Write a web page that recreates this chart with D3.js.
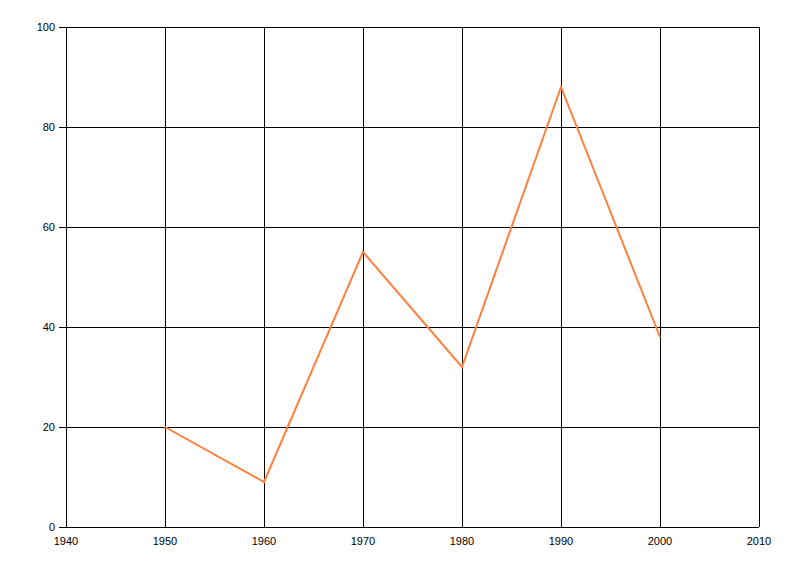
<!DOCTYPE html>
<html><head><meta charset="utf-8">
<script src="https://cdn.jsdelivr.net/npm/d3@7"></script>
<style>body{margin:0;background:#fff}svg{display:block}</style>
</head><body>
<script>
const years = [1950, 1960, 1970, 1980, 1990, 2000];
const values = [20, 9, 55, 32, 88, 38];
const xTicks = [1940, 1950, 1960, 1970, 1980, 1990, 2000, 2010];
const yTicks = [0, 20, 40, 60, 80, 100];

const W = 800, H = 576;
const pLeft = 66, pRight = 759, pTop = 27, pBottom = 527;
const svg = d3.select("body").append("svg").attr("width", W).attr("height", H);
const x = d3.scaleLinear().domain([1940, 2010]).range([pLeft, pRight]);
const y = d3.scaleLinear().domain([0, 100]).range([pBottom, pTop]);

const g = svg.append("g").attr("shape-rendering", "crispEdges");
g.selectAll(".vg").data(xTicks).enter().append("line")
  .attr("x1", d => Math.round(x(d)) + 0.5).attr("x2", d => Math.round(x(d)) + 0.5)
  .attr("y1", pTop).attr("y2", pBottom).attr("stroke", "#000");
g.selectAll(".hg").data(yTicks).enter().append("line")
  .attr("y1", d => Math.round(y(d)) + 0.5).attr("y2", d => Math.round(y(d)) + 0.5)
  .attr("x1", pLeft - 7).attr("x2", pRight).attr("stroke", "#000");

svg.selectAll(".yl").data(yTicks).enter().append("text")
  .attr("x", 55).attr("y", d => Math.round(y(d)) + 4)
  .attr("text-anchor", "end").attr("font-family", "Liberation Sans, Arial, sans-serif")
  .attr("font-size", 11).attr("fill", "#000").text(d => d);
svg.selectAll(".xl").data(xTicks).enter().append("text")
  .attr("x", d => x(d)).attr("y", 545)
  .attr("text-anchor", "middle").attr("font-family", "Liberation Sans, Arial, sans-serif")
  .attr("font-size", 11).attr("fill", "#000").text(d => d);

const line = d3.line().x((d, i) => x(years[i])).y(d => y(d));
svg.append("path").datum(values).attr("d", line)
  .attr("fill", "none").attr("stroke", "#ff7f3f").attr("stroke-width", 2)
  .attr("stroke-linejoin", "miter");
</script>
</body></html>
